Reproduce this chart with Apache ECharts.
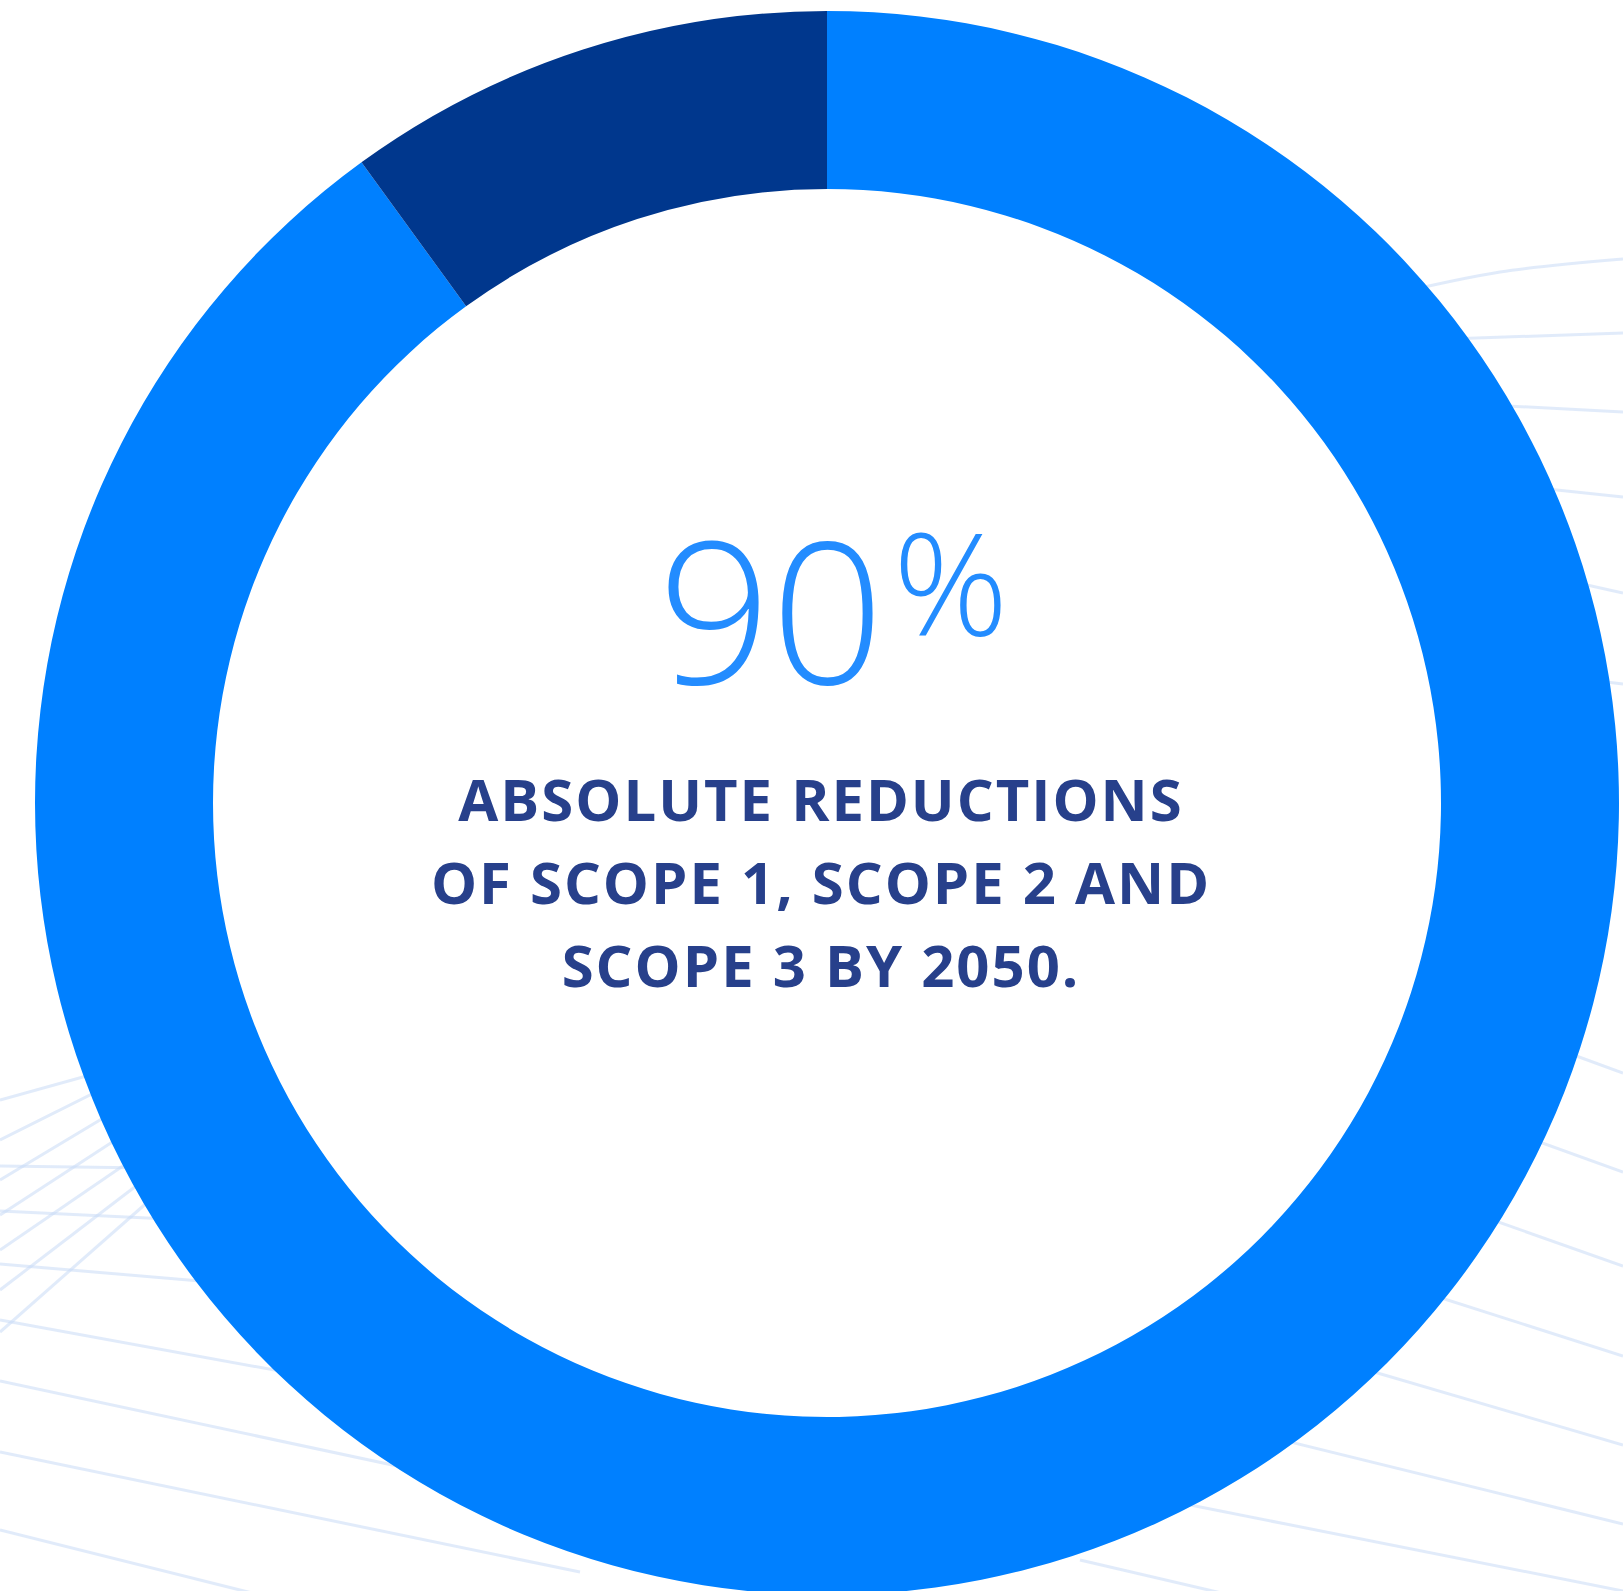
<!DOCTYPE html>
<html>
<head>
<meta charset="utf-8">
<script src="https://cdn.jsdelivr.net/npm/echarts@6/dist/echarts.min.js"></script>
<style>
html,body{margin:0;padding:0;background:#ffffff;}
#chart{width:1623px;height:1591px;}
</style>
</head>
<body>
<div id="chart"></div>
<script>
// ---- data ----
const categories = ['Absolute reductions', 'Remaining'];
const values = [90, 10];
const sliceColors = ['#0080ff', '#00378d'];
const headlineValue = '90';
const headlineUnit = '%';
const subtitleLines = ['ABSOLUTE REDUCTIONS', 'OF SCOPE 1, SCOPE 2 AND', 'SCOPE 3 BY 2050.'];

// ---- layout ----
const CX = 827, CY = 803, R_IN = 614, R_OUT = 792;

// decorative faint background strokes (not data)
const decorStrokes = [
  [[0,1166],[150,1168]],
  [[0,1211],[210,1221]],
  [[0,1264],[270,1287]],
  [[0,1320],[340,1382]],
  [[0,1381],[500,1488]],
  [[0,1452],[580,1572]],
  [[0,1530],[260,1595]],
  [[0,1332],[150,1200]],
  [[0,1290],[170,1160]],
  [[0,1250],[190,1120]],
  [[0,1215],[200,1085]],
  [[0,1180],[200,1060]],
  [[0,1140],[200,1040]],
  [[0,1100],[180,1050]],
  [[1080,1560],[1230,1595]],
  [[1150,1497],[1623,1591]],
  [[1250,1432],[1623,1524]],
  [[1340,1362],[1623,1445]],
  [[1410,1288],[1623,1356]],
  [[1470,1212],[1623,1266]],
  [[1520,1135],[1623,1172]],
  [[1560,1050],[1623,1073]],
  [[1380,297],[1500,272],[1623,259]],
  [[1420,340],[1623,333]],
  [[1470,404],[1623,412]],
  [[1520,486],[1623,497]],
  [[1560,579],[1623,593]],
  [[1590,680],[1623,684]]
];

const chart = echarts.init(document.getElementById('chart'), null, {renderer: 'svg'});

const graphics = decorStrokes.map(pts => ({
  type: 'polyline',
  z: 0,
  silent: true,
  shape: {points: pts, smooth: 0.3},
  style: {stroke: 'rgba(200,219,245,0.55)', lineWidth: 3, fill: null}
}));
graphics.push({
  type: 'circle', z: 1, silent: true,
  shape: {cx: CX, cy: CY, r: R_IN},
  style: {fill: '#ffffff'}
});
graphics.push({
  type: 'text', z: 100, silent: true,
  x: 771, y: 607,
  style: {text: headlineValue, font: '350 198px "Open Sans"', fill: '#238cff', align: 'center', verticalAlign: 'middle'}
});
graphics.push({
  type: 'text', z: 100, silent: true,
  x: 893, y: 580,
  style: {text: headlineUnit, font: '350 143px "Open Sans"', fill: '#238cff', align: 'left', verticalAlign: 'middle'}
});
subtitleLines.forEach((t, i) => {
  graphics.push({
    type: 'text', z: 100, silent: true,
    x: 821, y: 798 + i * 83,
    style: {text: t, font: 'bold 58px "Open Sans"', fill: '#27408b', align: 'center', verticalAlign: 'middle'}
  });
});

chart.setOption({
  backgroundColor: '#ffffff',
  animation: false,
  graphic: {elements: graphics},
  series: [{
    type: 'pie',
    center: [CX, CY],
    radius: [R_IN, R_OUT],
    startAngle: 90,
    clockwise: true,
    silent: true,
    label: {show: false},
    labelLine: {show: false},
    itemStyle: {borderWidth: 0},
    data: categories.map((c, i) => ({name: c, value: values[i], itemStyle: {color: sliceColors[i]}}))
  }]
});

// tracking for the uppercase caption (SVG text supports CSS letter-spacing)
document.querySelectorAll('#chart text').forEach(el => {
  if (subtitleLines.indexOf(el.textContent) >= 0) {
    el.style.letterSpacing = '2px';
  }
});
</script>
</body>
</html>
